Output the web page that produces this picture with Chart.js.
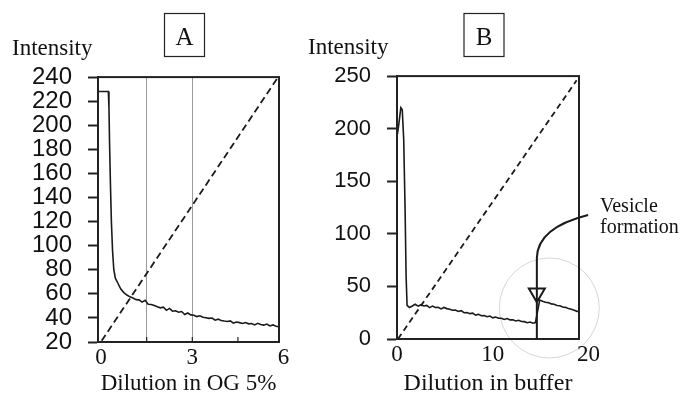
<!DOCTYPE html>
<html>
<head>
<meta charset="utf-8">
<script src="https://cdn.jsdelivr.net/npm/chart.js@4/dist/chart.umd.min.js"></script>
<style>
  body { margin: 0; background: #fff; }
  #wrap { position: relative; width: 680px; height: 396px; }
  #chartA { position: absolute; left: 0; top: 0; }
  #chartB { position: absolute; left: 300px; top: 0; }
</style>
</head>
<body>
<div id="wrap">
  <canvas id="chartA" width="300" height="396"></canvas>
  <canvas id="chartB" width="380" height="396"></canvas>
</div>
<script>
const SERIF = "'Liberation Serif', 'Times New Roman', serif";
const SANS = "'Liberation Sans', Arial, sans-serif";

// Panel A: dilution in OG 5%
const dilutionA = [-0.09, 0.24, 0.26, 0.28, 0.31, 0.34, 0.38, 0.42, 0.47, 0.55, 0.65, 0.75, 0.85, 0.95,
  1.05, 1.15, 1.25, 1.35, 1.45, 1.55, 1.65, 1.75, 1.85, 1.95, 2.05, 2.15, 2.25, 2.35, 2.45, 2.55,
  2.65, 2.75, 2.85, 2.95, 3.05, 3.15, 3.25, 3.35, 3.45, 3.55, 3.65, 3.75, 3.85, 3.95, 4.05, 4.15,
  4.25, 4.35, 4.45, 4.55, 4.65, 4.75, 4.85, 4.95, 5.05, 5.15, 5.25, 5.35, 5.45, 5.55, 5.65, 5.75, 5.84];
const intensityA = [228, 228, 215, 185, 150, 120, 95, 80, 73, 69, 64, 61, 59, 57.5,
  56.5, 55.2, 55.0, 53.1, 54.6, 51.4, 51.2, 50.3, 49.2, 48.4, 48.9, 46.3, 47.9, 45.6, 45.9, 44.7,
  45.3, 42.8, 44.1, 42.5, 42.2, 41.1, 41.8, 40.6, 40.1, 39.6, 39.9, 38.1, 39.0, 37.9, 37.4, 37.0,
  37.5, 35.7, 36.6, 36.1, 35.4, 36.2, 35.1, 35.3, 34.2, 35.5, 34.5, 34.0, 34.9, 33.3, 34.2, 33.0, 32.6];
const rampA = { x: [0.02, 5.82], y: [21, 240] };
const xTicksA = [0, 1.5, 3, 4.5, 6];
const xLabelsA = [0, 3, 6];
const xGridA = [1.5, 3];
const yTicksA = [20, 240, 20];   // min, max, step

// Panel B: dilution in buffer
const dilutionB = [0.05, 0.2, 0.4, 0.55, 0.7, 0.85, 0.95, 1.05, 1.3, 1.6, 1.9, 2.2, 2.5, 2.8, 3.1, 3.4,
  3.7, 4.0, 4.3, 4.6, 4.9, 5.2, 5.5, 5.8, 6.1, 6.4, 6.7, 7.0, 7.3, 7.6, 7.9, 8.2, 8.5, 8.8, 9.1, 9.4,
  9.7, 10.0, 10.3, 10.6, 10.9, 11.2, 11.5, 11.8, 12.1, 12.4, 12.7, 13.0, 13.3, 13.6, 13.9, 14.2, 14.45,
  14.9, 15.2, 15.5, 15.8, 16.1, 16.4, 16.7, 17.0, 17.3, 17.6, 17.9, 18.2, 18.5, 18.8, 19.1, 19.5, 20.1];
const intensityB = [195, 205, 220, 218, 190, 120, 60, 32, 30, 31.4, 33, 31.2, 32.6, 31.4, 31.9, 29.8,
  31.3, 29.9, 30.1, 28.6, 30.0, 28.9, 28.3, 27.4, 27.6, 26.2, 26.9, 25.0, 25.2, 24.1, 24.6, 22.7, 23.5, 22.1, 22.3, 21.2,
  21.8, 20.1, 20.9, 19.8, 19.7, 18.6, 19.4, 18.2, 18.3, 17.1, 17.8, 16.6, 16.5, 15.5, 16.1, 15.0, 15.6,
  37, 35.8, 34.9, 34.6, 33.4, 33.1, 31.9, 31.7, 30.4, 30.1, 28.9, 28.2, 27.4, 26.3, 26.2, 25, 24];
const rampB = { x: [0.1, 18.75], y: [0, 246] };
const xTicksB = [0, 10, 20];
const yTicksB = [0, 250, 50];

// Vesicle formation marker (data units)
const arrowX = 14.6;
const arrowFrom = [19.95, 118];
const arrowBend = [14.65, 106];
const arrowKnee = 77;
const arrowHead = [48, 35];
const ringCenter = [15.9, 29.5];

const pairs = (xs, ys) => xs.map((x, i) => ({ x, y: ys[i] }));

const frame = {
  id: 'frame',
  afterDatasetsDraw(chart, args, opts) {
    const { ctx, chartArea: a, scales: { x } } = chart;
    ctx.save();
    ctx.strokeStyle = '#222';
    ctx.lineWidth = 2;
    ctx.strokeRect(a.left, a.top, a.right - a.left, a.bottom - a.top);
    // short inner ticks on the bottom axis
    ctx.lineWidth = 1.2;
    (opts.inner || []).forEach(v => {
      const px = x.getPixelForValue(v);
      ctx.beginPath();
      ctx.moveTo(px, a.bottom);
      ctx.lineTo(px, a.bottom - 5);
      ctx.stroke();
    });
    ctx.restore();
  }
};

const panelTag = {
  id: 'panelTag',
  afterDraw(chart, args, opts) {
    const { ctx, chartArea: a } = chart;
    const cx = (a.left + a.right) / 2 - 4;
    ctx.save();
    ctx.strokeStyle = '#222';
    ctx.lineWidth = 1.2;
    ctx.strokeRect(cx - 20, 13.5, 40, 43);
    ctx.fillStyle = '#111';
    ctx.font = '25px ' + SERIF;
    ctx.textAlign = 'center';
    ctx.textBaseline = 'alphabetic';
    ctx.fillText(opts.text, cx, 45);
    ctx.restore();
  }
};

const vesicleNote = {
  id: 'vesicleNote',
  afterDatasetsDraw(chart) {
    const { ctx, chartArea: a, scales: { x, y } } = chart;
    const px = v => x.getPixelForValue(v);
    const py = v => y.getPixelForValue(v);
    ctx.save();
    ctx.strokeStyle = 'rgba(0,0,0,0.16)';
    ctx.lineWidth = 1;
    ctx.beginPath();
    ctx.arc(px(ringCenter[0]), py(ringCenter[1]), 50, 0, Math.PI * 2);
    ctx.stroke();

    const ax = px(arrowX);
    ctx.strokeStyle = '#1a1a1a';
    ctx.lineWidth = 2;
    ctx.beginPath();
    ctx.moveTo(px(arrowFrom[0]), py(arrowFrom[1]));
    ctx.quadraticCurveTo(px(arrowBend[0]), py(arrowBend[1]), ax, py(arrowKnee));
    ctx.lineTo(ax, a.bottom);
    ctx.stroke();
    const hTop = py(arrowHead[0]), hTip = py(arrowHead[1]);
    ctx.beginPath();
    ctx.moveTo(ax - 8, hTop);
    ctx.lineTo(ax + 8, hTop);
    ctx.lineTo(ax, hTip);
    ctx.closePath();
    ctx.stroke();

    ctx.fillStyle = '#111';
    ctx.font = '20px ' + SERIF;
    ctx.textAlign = 'left';
    ctx.textBaseline = 'alphabetic';
    ctx.fillText('Vesicle', a.right + 21, 212);
    ctx.fillText('formation', a.right + 21, 233);
    ctx.restore();
  }
};

function makePanel(canvasId, cfg) {
  return new Chart(document.getElementById(canvasId), {
    type: 'line',
    data: {
      datasets: [{
        data: pairs(cfg.xs, cfg.ys),
        borderColor: '#1a1a1a',
        borderWidth: 1.6,
        pointRadius: 0,
        tension: 0,
        clip: cfg.clip
      }, {
        data: pairs(cfg.ramp.x, cfg.ramp.y),
        borderColor: '#1a1a1a',
        borderWidth: 1.8,
        borderDash: cfg.dash,
        pointRadius: 0
      }]
    },
    options: {
      responsive: false,
      animation: false,
      devicePixelRatio: 1,
      layout: { padding: { left: cfg.padLeft, right: cfg.padRight, top: 0, bottom: 0 } },
      plugins: {
        legend: { display: false },
        tooltip: { enabled: false },
        title: {
          display: true,
          text: 'Intensity',
          align: 'start',
          color: '#111',
          font: { family: SERIF, size: 23, weight: 'normal' },
          padding: { top: cfg.titleTop, bottom: 14 }
        },
        panelTag: { text: cfg.tag },
        frame: { inner: cfg.inner }
      },
      scales: {
        x: {
          type: 'linear',
          min: cfg.xMin,
          max: cfg.xMax,
          afterBuildTicks: s => { s.ticks = cfg.xTicks.map(v => ({ value: v })); },
          afterFit: s => { s.height = cfg.xHeight; },
          ticks: {
            autoSkip: false,
            maxRotation: 0,
            padding: 2,
            color: '#111',
            font: { family: SERIF, size: 23 },
            callback: v => cfg.xLabels.includes(v) ? String(v) : ''
          },
          grid: {
            drawTicks: false,
            lineWidth: 1,
            color: c => (c.tick && cfg.xGrid.includes(c.tick.value)) ? '#9a9a9a' : 'rgba(0,0,0,0)'
          },
          border: { display: true, color: '#222', width: 2 },
          title: {
            display: true,
            text: cfg.xTitle,
            color: '#111',
            font: { family: SERIF, size: cfg.xTitleSize },
            padding: { top: 0, bottom: -2 }
          }
        },
        y: {
          min: cfg.yTicks[0],
          max: cfg.yTicks[1],
          afterFit: s => { s.width = cfg.yWidth; },
          ticks: {
            stepSize: cfg.yTicks[2],
            autoSkip: false,
            padding: 16,
            color: '#111',
            font: { family: SANS, size: cfg.yFont }
          },
          grid: {
            drawOnChartArea: false,
            drawTicks: true,
            tickLength: 10,
            tickWidth: 2,
            tickColor: '#222'
          },
          border: { display: true, color: '#222', width: 2 }
        }
      }
    },
    plugins: cfg.plugins
  });
}

makePanel('chartA', {
  xs: dilutionA, ys: intensityA, ramp: rampA, dash: [7, 4], clip: undefined,
  xMin: -0.1, xMax: 5.85, xTicks: xTicksA, xLabels: xLabelsA, xGrid: xGridA,
  yTicks: yTicksA, yFont: 24, yWidth: 86, padLeft: 12, padRight: 21,
  xHeight: 54, titleTop: 35.5, tag: 'A', inner: [1.5, 3, 4.5],
  xTitle: 'Dilution in OG 5%', xTitleSize: 23,
  plugins: [frame, panelTag]
});

makePanel('chartB', {
  xs: dilutionB, ys: intensityB, ramp: rampB, dash: [6, 4], clip: false,
  xMin: 0, xMax: 19, xTicks: xTicksB, xLabels: xTicksB, xGrid: [],
  yTicks: yTicksB, yFont: 22, yWidth: 89, padLeft: 8, padRight: 101,
  xHeight: 57, titleTop: 34.5, tag: 'B', inner: [],
  xTitle: 'Dilution in buffer', xTitleSize: 24,
  plugins: [frame, panelTag, vesicleNote]
});
</script>
</body>
</html>
